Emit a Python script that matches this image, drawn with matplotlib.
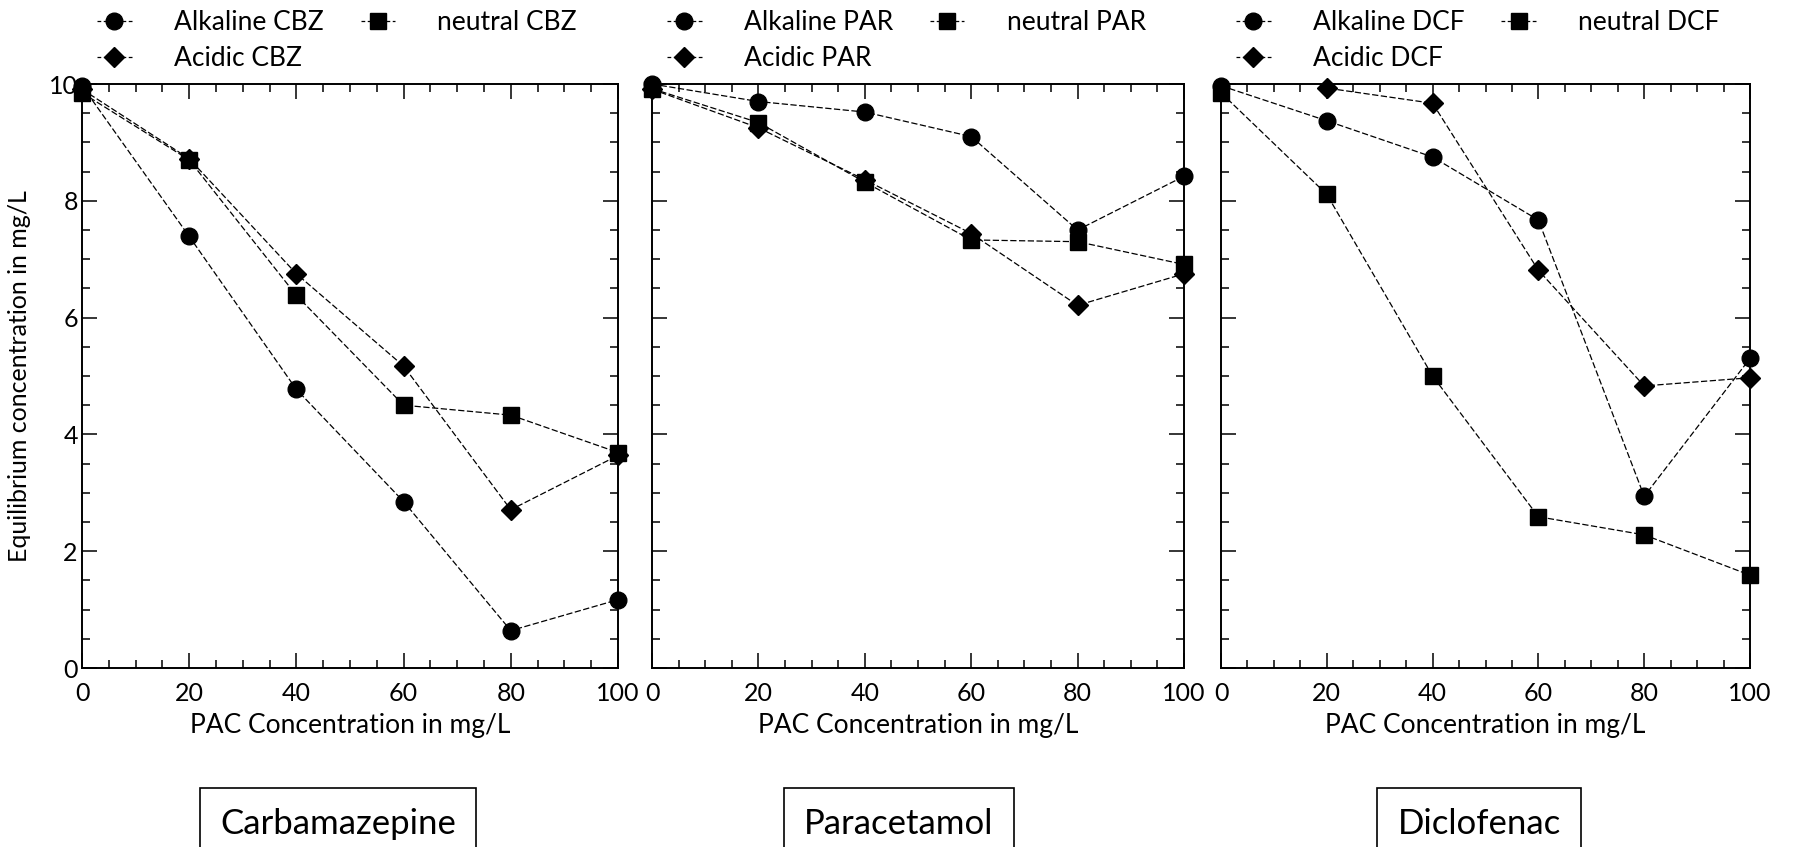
import numpy as np
import matplotlib
matplotlib.use("Agg")
import matplotlib.pyplot as plt
from matplotlib.ticker import MultipleLocator

plt.rcParams['font.family'] = ['Lato', 'DejaVu Sans']

pac = [0, 20, 40, 60, 80, 100]

cbz_alkaline = [9.97, 7.39, 4.77, 2.85, 0.64, 1.17]
cbz_neutral = [9.85, 8.70, 6.38, 4.50, 4.33, 3.69]
cbz_acidic = [9.91, 8.72, 6.75, 5.17, 2.71, 3.64]

par_alkaline = [10.0, 9.70, 9.52, 9.10, 7.50, 8.42]
par_neutral = [9.92, 9.34, 8.32, 7.33, 7.30, 6.91]
par_acidic = [9.91, 9.25, 8.36, 7.44, 6.21, 6.75]

dcf_alkaline = [9.97, 9.37, 8.75, 7.67, 2.94, 5.30]
dcf_neutral = [9.85, 8.11, 5.00, 2.59, 2.28, 1.59]
dcf_acidic = [11.2, 9.93, 9.67, 6.81, 4.83, 4.97]

drugs = ["Carbamazepine", "Paracetamol", "Diclofenac"]
short = ["CBZ", "PAR", "DCF"]
series = [
  (cbz_alkaline, cbz_neutral, cbz_acidic),
  (par_alkaline, par_neutral, par_acidic),
  (dcf_alkaline, dcf_neutral, dcf_acidic),
]

W, H = 1794, 847
fig = plt.figure(figsize=(W / 100, H / 100), dpi=100)

# panel edges in pixels
lefts = [82, 652, 1221]
rights = [618, 1184, 1750]
top, bottom = 84, 668
box_x = [338, 899, 1479]


def draw(ax, y, marker, ms, label):
  y = np.array(y)
  ax.plot(pac, y, color='black', lw=0.9, ls=(0, (5, 2)), clip_on=True, zorder=2)
  ok = y <= 10.05
  ax.plot(np.array(pac)[ok], y[ok], ls='none', marker=marker, ms=ms,
          color='black', clip_on=False, zorder=3)
  return ax.plot([], [], color='black', lw=0.9, ls=(0, (3, 2)),
                 marker=marker, ms=ms, label=label)[0]


for i in range(3):
  ax = fig.add_axes([lefts[i] / W, (H - bottom) / H,
                     (rights[i] - lefts[i]) / W, (bottom - top) / H])
  alk, neu, acid = series[i]
  h_alk = draw(ax, alk, 'o', 12, "Alkaline " + short[i])
  h_neu = draw(ax, neu, 's', 11, "neutral " + short[i])
  h_acid = draw(ax, acid, 'D', 10.5, "Acidic " + short[i])

  ax.set_xlim(0, 100)
  ax.set_ylim(0, 10)
  ax.xaxis.set_major_locator(MultipleLocator(20))
  ax.xaxis.set_minor_locator(MultipleLocator(5))
  ax.yaxis.set_major_locator(MultipleLocator(2))
  ax.yaxis.set_minor_locator(MultipleLocator(0.5))
  ax.tick_params(which='both', direction='in', top=True, right=True, width=1.1)
  ax.tick_params(which='major', length=11)
  ax.tick_params(which='minor', length=5.5)
  ax.tick_params(axis='x', labelsize=18, pad=10)
  ax.tick_params(axis='y', labelsize=18, pad=3)
  for s in ax.spines.values():
    s.set_linewidth(1.4)
  if i > 0:
    ax.set_yticklabels([])
  else:
    ax.set_ylabel("Equilibrium concentration in mg/L", fontsize=18)
    ax.yaxis.set_label_coords(-0.095, 0.5)
  ax.set_xlabel("PAC Concentration in mg/L", fontsize=19, labelpad=6)

  ax.legend(handles=[h_alk, h_acid, h_neu], ncol=2, frameon=False,
            fontsize=19, loc='upper left',
            bbox_to_anchor=((lefts[i] + 10) / W, 1 - 5 / H), bbox_transform=fig.transFigure,
            handlelength=1.3, handletextpad=1.6, columnspacing=1.4,
            labelspacing=0.42, borderaxespad=0.0, borderpad=0.2)

  fig.text(box_x[i] / W, (H - 824) / H, drugs[i], fontsize=25, ha='center', va='center',
           bbox=dict(boxstyle='square,pad=0.58', fc='white', ec='black', lw=1.2))

fig.savefig("out.png", dpi=100)
